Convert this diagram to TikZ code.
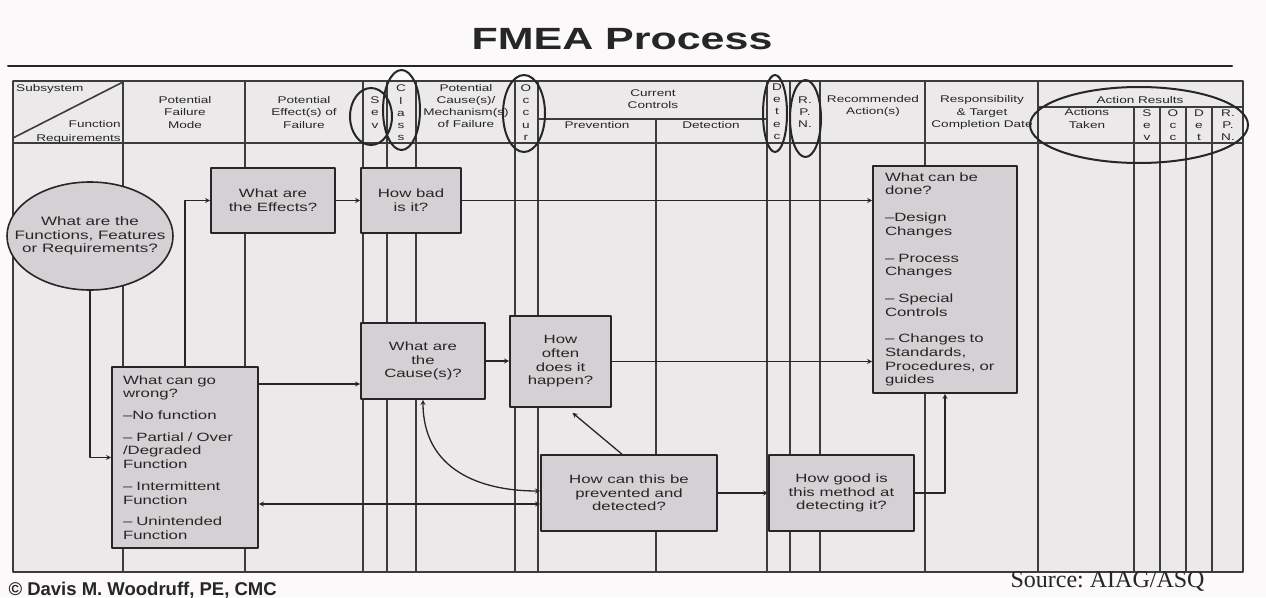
\documentclass[tikz,border=0pt]{standalone}
\usepackage{fontspec}
\setmainfont{Liberation Sans}[FakeStretch=1.4]
\newfontfamily\plainsans{Liberation Sans}
\newfontfamily\serifsrc{Liberation Serif}
\usetikzlibrary{calc,shapes.geometric}
\definecolor{paper}{HTML}{FBF9FA}
\definecolor{sheet}{HTML}{ECE9EA}
\definecolor{boxfill}{HTML}{D5D0D3}
\definecolor{ink}{HTML}{262626}
\tikzset{
	hd/.style={align=center,inner sep=0pt,font=\fontsize{9.7}{12.3}\selectfont},
	qbox/.style={draw=ink,line width=1.6pt,fill=boxfill,align=center,inner sep=0pt,font=\fontsize{12}{13.7}\selectfont},
	ring/.style={draw=ink,line width=2pt},
	grid/.style={draw=ink!90,line width=1.6pt},
	link/.style={draw=ink,line width=1.3pt}
}
\begin{document}
\begin{tikzpicture}[x=1pt,y=-1pt,line cap=round,line join=round,>=stealth,text=ink]
		\fill[paper] (0,0) rectangle (1266,597);
		\useasboundingbox (0,0) rectangle (1266,597);
		% title
		\node[font=\bfseries\fontsize{30.7}{32}\selectfont] (title) at (622,39) {FMEA Process};
		\draw[ink,line width=2pt] (8,66) -- (1232,66);
		% form
		\fill[sheet] (13,81) rectangle (1243,572);
		\draw[grid] (13,81) rectangle (1243,572) (13,143) -- (1243,143)
			(538,119) -- (767,119) (1038,107) -- (1243,107) (123,82) -- (13,138);
		\foreach \x in {123,245,363,387,416,515,538,767,790,820,925,1038}
			\draw[grid] (\x,81) -- (\x,572);
		\draw[grid] (656,119) -- (656,572);
		\foreach \x in {1134,1160,1186,1212}
			\draw[grid] (\x,107) -- (\x,572);
		% header
		\node[hd,anchor=base west] (sub) at (16,91) {Subsystem};
		\node[hd,anchor=base east] (fn) at (121,127) {Function};
		\node[hd,anchor=base east] (req) at (121,141) {Requirements};
		\node[hd] (fm) at (185,112.5) {Potential\\Failure\\Mode};
		\node[hd] (ef) at (304,112.5) {Potential\\Effect(s) of\\Failure};
		\node[hd] (sev) at (375,112.5) {S\\e\\v};
		\node[hd] (cls) at (401,113) {C\\l\\a\\s\\s};
		\node[hd] (cau) at (466,106) {Potential\\Cause(s)/\\Mechanism(s)\\of Failure};
		\node[hd] (occ) at (526,112.5) {O\\c\\c\\u\\r};
		\node[hd] (cc) at (653,99) {Current\\Controls};
		\node[hd] (pv) at (597,125) {Prevention};
		\node[hd] (dt) at (711,125) {Detection};
		\node[hd] (det) at (777,111.5) {D\\e\\t\\e\\c};
		\node[hd] (rpn) at (805,112) {R.\\P.\\N.};
		\node[hd] (rec) at (873,106) {Recommended\\Action(s)};
		\node[hd] (resp) at (982,112.5) {Responsibility\\\& Target\\Completion Date};
		\node[hd] (ar) at (1140,100) {Action Results};
		\node[hd] (at) at (1087,118.5) {Actions\\Taken};
		\node[hd] (sev2) at (1147,125) {S\\e\\v};
		\node[hd] (occ2) at (1173,125) {O\\c\\c};
		\node[hd] (det2) at (1199,125) {D\\e\\t};
		\node[hd] (rpn2) at (1228,125) {R.\\P.\\N.};
		\draw[ring] (371,116.5) ellipse [x radius=21pt,y radius=28.5pt]
			(401.5,110) ellipse [x radius=18.5pt,y radius=40pt]
			(524,113.5) ellipse [x radius=21pt,y radius=38.5pt]
			(775,113.5) ellipse [x radius=12pt,y radius=38.5pt]
			(805.5,118.5) ellipse [x radius=15.5pt,y radius=38.5pt]
			(1139,125) ellipse [x radius=109pt,y radius=38pt];
		% questions
		\node[qbox,ellipse,minimum width=166pt,minimum height=108pt] (func) at (90,236) {};
		\node[align=center,inner sep=0pt,font=\fontsize{12.2}{13.5}\selectfont] (functxt) at (func) {What are the\\Functions, Features\\or Requirements?};
		\node[qbox,minimum width=124pt,minimum height=65pt] (effect) at (273,200.5) {What are\\the Effects?};
		\node[qbox,minimum width=100pt,minimum height=65pt] (bad) at (411,200.5) {How bad\\is it?};
		\node[qbox,minimum width=146pt,minimum height=181pt,text width=124pt,align=left,inner xsep=11pt] (wrong) at (185,457.5)
			{What can go\\wrong?\\[8pt]–No function\\[8pt]– Partial / Over\\/Degraded\\Function\\[8pt]– Intermittent\\Function\\[8pt]– Unintended\\Function};
		\node[qbox,minimum width=124pt,minimum height=76pt] (cause) at (423,361) {What are\\the\\Cause(s)?};
		\node[qbox,minimum width=101pt,minimum height=91pt] (often) at (560.5,361.5) {How\\often\\does it\\happen?};
		\node[qbox,minimum width=176pt,minimum height=76pt] (prevent) at (629,493) {How can this be\\prevented and\\detected?};
		\node[qbox,minimum width=145pt,minimum height=76pt] (good) at (841.5,493) {How good is\\this method at\\detecting it?};
		\node[qbox,minimum width=144pt,minimum height=227pt,text width=120pt,align=left,inner xsep=12pt] (done) at (945,279.5)
			{What can be\\done?\\[13pt]–Design\\Changes\\[13pt]– Process\\Changes\\[13pt]– Special\\Controls\\[13pt]– Changes to\\Standards,\\Procedures, or\\guides};
		\coordinate (w1) at ($(cause.west)+(0,23)$);
		\coordinate (w2) at ($(prevent.west)+(0,11)$);
		\draw[link,->] (func.south) |- (wrong.west);
		\draw[link,->] (wrong.north) |- (effect.west);
		\draw[link,->] (effect) -- (bad);
		\draw[link,->] (bad.east) -- (bad.east -| done.west);
		\draw[link,->] (wrong.east |- w1) -- (w1);
		\draw[link,->] (cause.east) -- (cause.east -| often.west);
		\draw[link,->] (often.east) -- (often.east -| done.west);
		\draw[link,->] (prevent) -- (good);
		\draw[link,->] (good.east) -| (done.south);
		\draw[link,->] ($(prevent.north)+(-7,0)$) -- ($(often.south)+(12,5)$);
		\draw[link,<->] (wrong.east |- w2) -- (w2);
		\draw[link,<->] (cause.south) .. controls +(0,70) and +(-60,0) .. ($(prevent.west)+(0,-2)$);
		% credits
		\node[anchor=base west,font=\plainsans\bfseries\fontsize{18.5}{20}\selectfont] (credit) at (5,595) {© Davis M. Woodruff, PE, CMC};
		\node[anchor=base west,font=\serifsrc\fontsize{24}{26}\selectfont] (src) at (1007,587) {Source:\ AIAG/ASQ};
\end{tikzpicture}
\end{document}
